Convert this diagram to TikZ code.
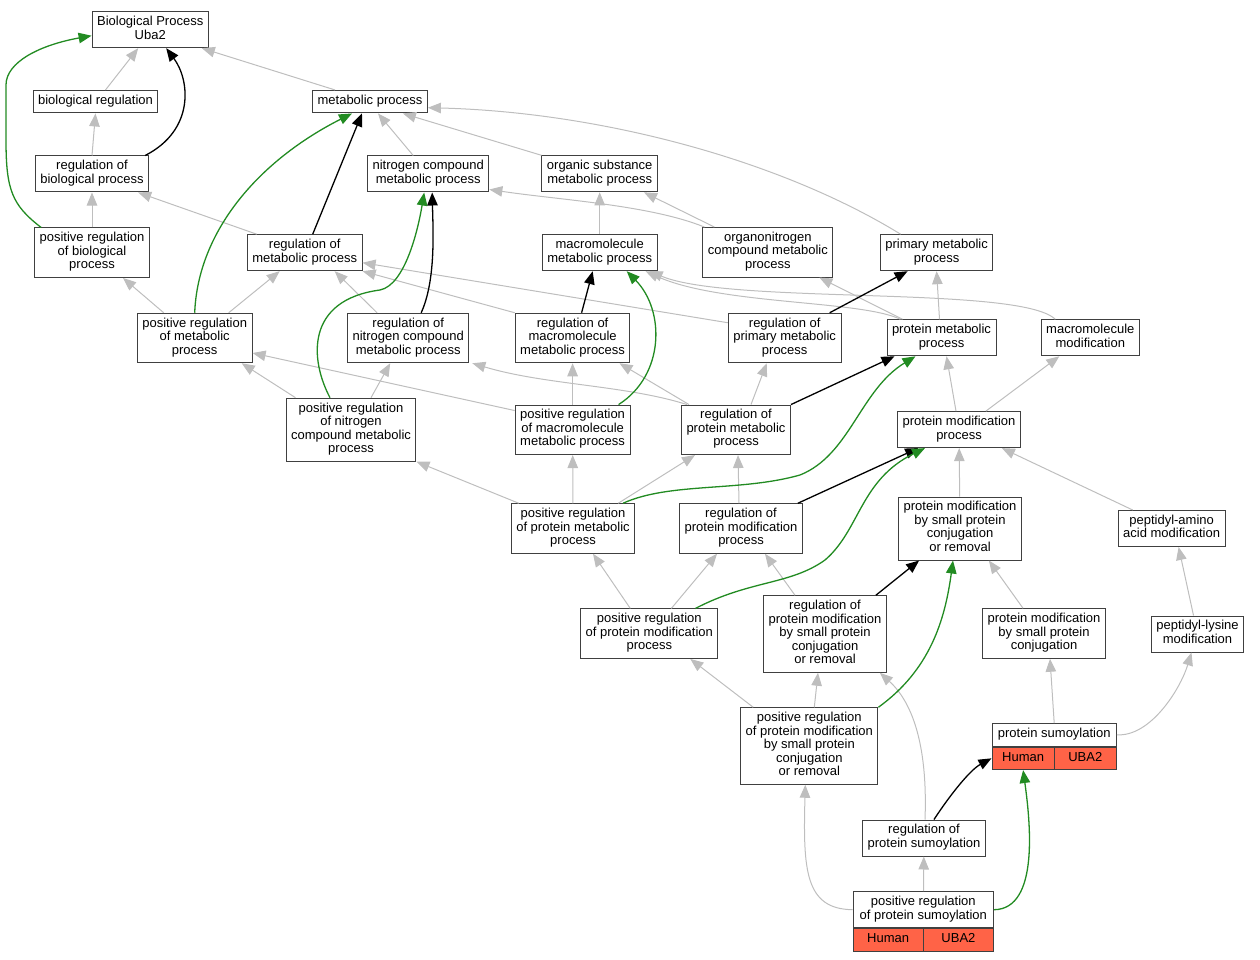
\documentclass[tikz,border=0pt]{standalone}
\usepackage{fontspec}
\setmainfont{Liberation Sans}
\usetikzlibrary{arrows.meta,positioning}
\definecolor{tomato}{RGB}{255,99,71}
\definecolor{isagray}{RGB}{190,190,190}
\definecolor{posgreen}{RGB}{34,139,34}

\begin{document}
\begin{tikzpicture}[x=1pt,y=-1pt,
    term/.style={draw=black!75,line width=1pt,fill=white,align=center,inner xsep=5pt,inner ysep=0pt,
        font=\fontsize{13pt}{13.5pt}\selectfont,execute at begin node=\strut,execute at end node=\strut},
    nlines/.style={minimum height={#1*13.5pt+9pt}},
    cell/.style={term,fill=tomato,inner xsep=0pt,nlines=1},
    isa/.style={draw=isagray,line width=1pt,-{Triangle[length=13pt,width=10.5pt]}},
    negreg/.style={draw=black,line width=1.3pt,-{Triangle[length=13pt,width=10.5pt]}},
    posreg/.style={draw=posgreen,line width=1.3pt,-{Triangle[length=13pt,width=10.5pt]}}]
    \useasboundingbox (0,0) rectangle (1260,960);
    % terms, top to bottom
    \node[term,nlines=2](bp) at (150.2,29.7) {Biological Process\\Uba2};
    \node[term,nlines=1](breg) at (95.5,101.7) {biological regulation};
    \node[term,nlines=1](metab) at (370,101.7) {metabolic process};
    \node[term,nlines=2](regbio) at (92,174) {regulation of\\biological process};
    \node[term,nlines=2](nitro) at (428.2,174) {nitrogen compound\\metabolic process};
    \node[term,nlines=2](orgsub) at (599.7,173.8) {organic substance\\metabolic process};
    \node[term,nlines=3](posbio) at (92,252.7) {positive regulation\\of biological\\process};
    \node[term,nlines=2](regmet) at (304.7,252.7) {regulation of\\metabolic process};
    \node[term,nlines=2](macro) at (599.7,252.7) {macromolecule\\metabolic process};
    \node[term,nlines=3](orgnit) at (767.9,252.3) {organonitrogen\\compound metabolic\\process};
    \node[term,nlines=2](primary) at (936.6,252.7) {primary metabolic\\process};
    \node[term,nlines=3](posmet) at (194.7,338) {positive regulation\\of metabolic\\process};
    \node[term,nlines=3](regnit) at (408.2,338) {regulation of\\nitrogen compound\\metabolic process};
    \node[term,nlines=3](regmacro) at (572.6,338) {regulation of\\macromolecule\\metabolic process};
    \node[term,nlines=3](regprim) at (784.7,338) {regulation of\\primary metabolic\\process};
    \node[term,nlines=2](protmet) at (941.5,337.8) {protein metabolic\\process};
    \node[term,nlines=2](macmod) at (1090.3,337.8) {macromolecule\\modification};
    \node[term,nlines=4](posnit) at (351,429.7) {positive regulation\\of nitrogen\\compound metabolic\\process};
    \node[term,nlines=3](posmacro) at (572.6,429.8) {positive regulation\\of macromolecule\\metabolic process};
    \node[term,nlines=3](regprot) at (736,429.8) {regulation of\\protein metabolic\\process};
    \node[term,nlines=2](protmod) at (959,429.6) {protein modification\\process};
    \node[term,nlines=3](posprot) at (573,528.5) {positive regulation\\of protein metabolic\\process};
    \node[term,nlines=3](regmod) at (741,528.5) {regulation of\\protein modification\\process};
    \node[term,nlines=4](pmsmall) at (960,528.5) {protein modification\\by small protein\\conjugation\\or removal};
    \node[term,nlines=2](peptam) at (1171.6,528.5) {peptidyl-amino\\acid modification};
    \node[term,nlines=3](posmod) at (649.3,633.7) {positive regulation\\of protein modification\\process};
    \node[term,nlines=5](regsmall) at (825,634) {regulation of\\protein modification\\by small protein\\conjugation\\or removal};
    \node[term,nlines=3](pmsconj) at (1044,633.5) {protein modification\\by small protein\\conjugation};
    \node[term,nlines=2](peptlys) at (1197.5,634) {peptidyl-lysine\\modification};
    \node[term,nlines=5](possmall) at (809.3,746) {positive regulation\\of protein modification\\by small protein\\conjugation\\or removal};
    \node[term,nlines=1,minimum width=124.4pt](sumo) at (1054.2,734.8) {protein sumoylation};
    \node[cell,minimum width=62.2pt,anchor=north west](sumoh) at (sumo.south west) {Human};
    \node[cell,minimum width=62.2pt,anchor=north east](sumou) at (sumo.south east) {UBA2};
    \node[term,nlines=2](regsumo) at (924,838) {regulation of\\protein sumoylation};
    \node[term,nlines=2,minimum width=140.6pt](possumo) at (923.3,909.7) {positive regulation\\of protein sumoylation};
    \node[cell,minimum width=70.3pt,anchor=north west](possumoh) at (possumo.south west) {Human};
    \node[cell,minimum width=70.3pt,anchor=north east](possumou) at (possumo.south east) {UBA2};
    % is_a
    \draw[isa] ([xshift=10]breg.north) -- ([xshift=-12]bp.south);
    \draw[isa] ([xshift=-35]metab.north) -- ([xshift=-7]bp.south east);
    \draw[isa] (regbio.north) -- (breg.south);
    \draw[isa] (posbio) -- (regbio);
    \draw[isa] ([xshift=-48]regmet.north) -- ([xshift=-11]regbio.south east);
    \draw[isa] ([xshift=-15]nitro.north) -- ([xshift=8]metab.south);
    \draw[isa] (orgsub.north west) -- ([xshift=-25]metab.south east);
    \draw[isa] ([xshift=-36]primary.north) .. controls (780,160) and (600,112) .. ([yshift=-6]metab.east);
    \draw[isa] ([xshift=2]orgnit.north west) .. controls (650,205) and (560,200) .. ([yshift=3]nitro.south east);
    \draw[isa] ([xshift=12]orgnit.north west) -- ([xshift=-14]orgsub.south east);
    \draw[isa] (macro) -- (orgsub);
    \draw[isa] ([xshift=14]protmet.north west) .. controls (860,300) and (720,305) .. ([xshift=-12]macro.south east);
    \draw[isa] ([xshift=-35]macmod.north) .. controls (1020,285) and (730,305) .. ([xshift=-8]macro.south east);
    \draw[isa] ([xshift=16]protmet.north west) -- ([xshift=-14]orgnit.south east);
    \draw[isa] ([xshift=-2]protmet.north) -- (primary.south);
    \draw[isa] ([xshift=30]regnit.north west) -- ([xshift=30]regmet.south);
    \draw[isa] (regmacro.north west) -- (regmet.south east);
    \draw[isa] ([yshift=-10]regprim.north west) -- ([yshift=-10]regmet.east);
    \draw[isa] ([xshift=34]posmet.north) -- ([xshift=-25]regmet.south);
    \draw[isa] ([xshift=-31]posmet.north) -- ([xshift=31]posbio.south);
    \draw[isa] ([xshift=10]posnit.north west) -- ([xshift=47]posmet.south);
    \draw[isa] ([yshift=-6]posmacro.north west) -- ([yshift=-15]posmet.east);
    \draw[isa] ([xshift=20]posnit.north) -- ([xshift=-18]regnit.south);
    \draw[isa] (posmacro) -- (regmacro);
    \draw[isa] ([xshift=6]regprot.north west) .. controls (625,385) and (545,385) .. ([xshift=3]regnit.south east);
    \draw[isa] ([xshift=8]regprot.north west) -- ([xshift=-11]regmacro.south east);
    \draw[isa] ([xshift=15]regprot.north) -- ([xshift=-18]regprim.south);
    \draw[isa] ([xshift=-3]protmod.north) -- ([xshift=5]protmet.south);
    \draw[isa] ([xshift=-35]protmod.north east) -- ([xshift=-31]macmod.south);
    \draw[isa] ([xshift=8]posprot.north west) -- (posnit.south east);
    \draw[isa] (posprot) -- (posmacro);
    \draw[isa] ([xshift=-17]posprot.north east) -- ([xshift=14]regprot.south west);
    \draw[isa] ([xshift=-2]regmod.north) -- ([xshift=2]regprot.south);
    \draw[isa] (pmsmall) -- (protmod);
    \draw[isa] ([xshift=15]peptam.north west) -- ([xshift=-19]protmod.south east);
    \draw[isa] ([xshift=-19]posmod.north) -- ([xshift=20]posprot.south);
    \draw[isa] ([xshift=22]posmod.north) -- ([xshift=-24]regmod.south);
    \draw[isa] ([xshift=-30]regsmall.north) -- ([xshift=24]regmod.south);
    \draw[isa] ([xshift=-21]pmsconj.north) -- ([xshift=-33]pmsmall.south east);
    \draw[isa] ([xshift=-4]peptlys.north) -- ([xshift=7]peptam.south);
    \draw[isa] ([xshift=13]possmall.north west) -- ([xshift=41]posmod.south);
    \draw[isa] ([xshift=5]possmall.north) -- ([xshift=-7]regsmall.south);
    \draw[isa] (sumo.north) -- ([xshift=6]pmsconj.south);
    \draw[isa] (sumo.east) .. controls (1150,737) and (1180,690) .. ([xshift=-6]peptlys.south);
    \draw[isa] ([xshift=1]regsumo.north) .. controls (928,740) and (910,700) .. ([xshift=-7]regsmall.south east);
    \draw[isa] (possumo) -- (regsumo);
    \draw[isa] (possumo.west) .. controls (805,909) and (803,870) .. ([xshift=-4]possmall.south);
    % regulates
    \draw[negreg] ([xshift=-4]regbio.north east) .. controls (195,130) and (190,80) .. ([xshift=16]bp.south);
    \draw[negreg] ([xshift=8]regmet.north) -- ([xshift=-8]metab.south);
    \draw[negreg] ([xshift=13]regnit.north) .. controls (436,280) and (433,230) .. ([xshift=4]nitro.south);
    \draw[negreg] ([xshift=9]regmacro.north) -- ([xshift=-7]macro.south);
    \draw[negreg] ([xshift=45]regprim.north) -- ([xshift=-29]primary.south);
    \draw[negreg] (regprot.north east) -- ([xshift=8]protmet.south west);
    \draw[negreg] ([xshift=-5]regmod.north east) -- ([xshift=21]protmod.south west);
    \draw[negreg] ([xshift=-11]regsmall.north east) -- ([xshift=21]pmsmall.south west);
    \draw[negreg] ([xshift=10]regsumo.north) .. controls (950,795) and (970,770) .. (sumoh.west);
    % positively regulates
    \draw[posreg] ([xshift=7]posbio.north west) .. controls (12,205) and (6,190) .. (6,140) -- (6,85) .. controls (6,62) and (40,45) .. ([yshift=-6]bp.west);
    \draw[posreg] (posmet.north) .. controls (198,230) and (260,160) .. ([xshift=-18]metab.south);
    \draw[posreg] ([xshift=-21]posnit.north) .. controls (310,360) and (305,300) .. (380,290) .. controls (405,285) and (418,230) .. ([xshift=-4]nitro.south);
    \draw[posreg] ([xshift=46]posmacro.north) .. controls (665,375) and (665,310) .. ([xshift=27]macro.south);
    \draw[posreg] ([xshift=50]posprot.north) .. controls (670,482) and (740,492) .. (800,475) .. controls (850,455) and (860,390) .. ([xshift=-26]protmet.south);
    \draw[posreg] ([xshift=-23]posmod.north east) .. controls (750,580) and (790,585) .. (825,560) .. controls (860,530) and (860,480) .. ([xshift=-34]protmod.south);
    \draw[posreg] (possmall.north east) .. controls (930,670) and (945,620) .. ([xshift=-7]pmsmall.south);
    \draw[posreg] (possumo.east) .. controls (1040,909) and (1030,820) .. (sumoh.south);
\end{tikzpicture}
\end{document}
